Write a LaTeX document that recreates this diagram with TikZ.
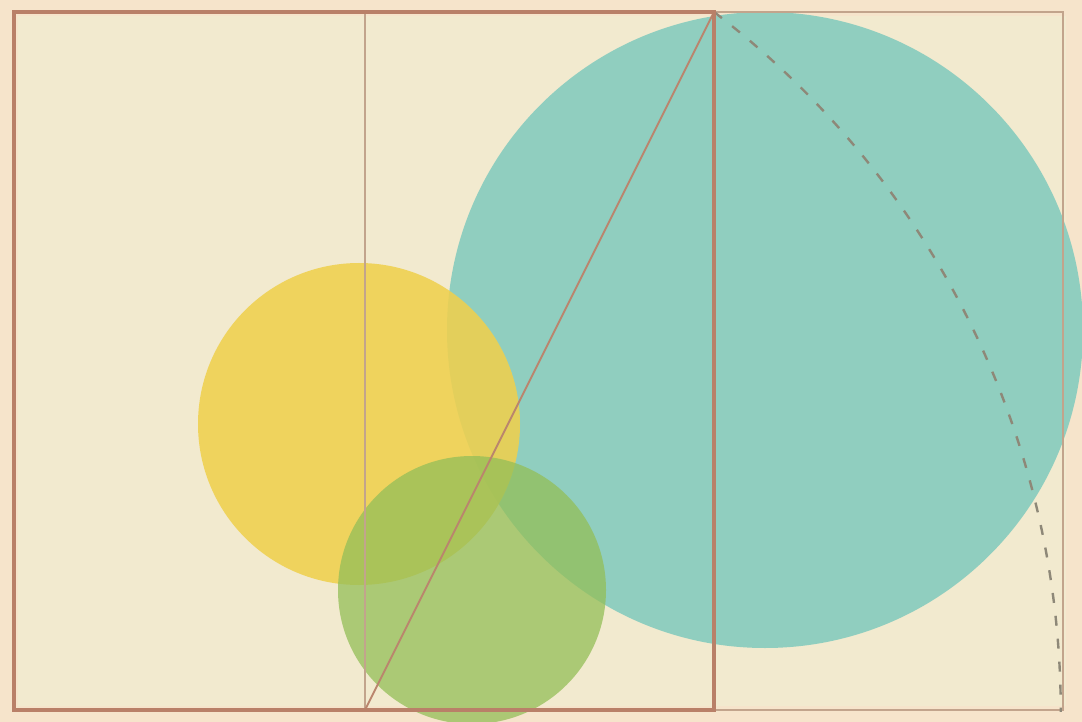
\documentclass[tikz,border=0pt]{standalone}
\definecolor{paper}{HTML}{F2EACF}
\definecolor{edgepaper}{HTML}{F6E4CB}
\definecolor{teal}{HTML}{90CEBF}
\definecolor{yell}{HTML}{EFD04E}
\definecolor{grn}{HTML}{94BE58}
\definecolor{frame}{HTML}{B98068}
\definecolor{thin}{HTML}{C2A48C}
\definecolor{dash}{HTML}{8E8878}
\tikzset{
  disc/.style={draw=none},
  sq/.style={draw=frame, line width=3.6pt},
  thinline/.style={draw=thin, line width=2.2pt},
  diag/.style={draw=frame!85!thin, line width=2pt},
  arcline/.style={draw=dash, line width=2.4pt, dash pattern=on 10pt off 13pt}
}
\begin{document}
\begin{tikzpicture}[x=1pt,y=-1pt]
\useasboundingbox (0,0) rectangle (1082,722);
\fill[edgepaper] (0,0) rectangle (1082,722);
\fill[paper] (18,16) rectangle (1066,706);
% coordinates
\coordinate (A) at (14,12);
\coordinate (B) at (714,12);
\coordinate (C) at (714,710);
\coordinate (D) at (14,710);
\coordinate (M) at (365,710);
\coordinate (MT) at (365,12);
\coordinate (E) at (1063,12);
\coordinate (F) at (1063,710);
% circles
\fill[teal, disc] (765,330) circle (318);
\fill[yell, disc, opacity=0.88] (359,424) circle (161);
\fill[grn, disc, opacity=0.75] (472,590) circle (134);
% lines
\draw[thinline] (B) -- (E) -- (F) -- (C);
\draw[thinline] (MT) -- (M);
\draw[arcline] (B) arc[start angle=-52.7, end angle=0, radius=880];
\draw[diag] (M) -- (B);
\draw[sq] (A) rectangle (C);
\end{tikzpicture}
\end{document}
